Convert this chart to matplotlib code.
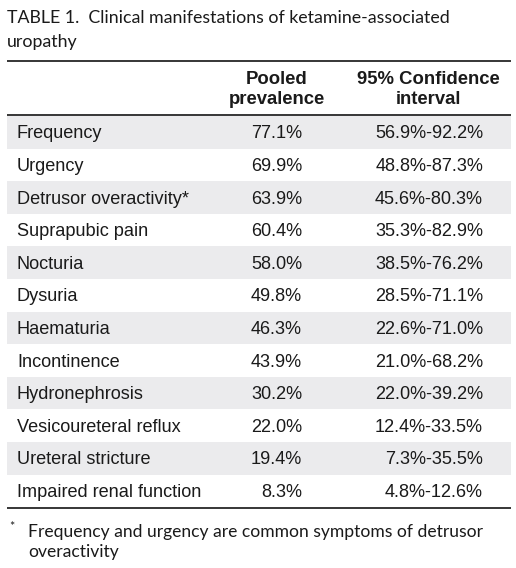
import matplotlib
matplotlib.use("Agg")
import matplotlib.pyplot as plt
from matplotlib.patches import Rectangle

title_lines = ["TABLE 1.  Clinical manifestations of ketamine-associated", "uropathy"]
col_headers = [["Pooled", "prevalence"], ["95% Confidence", "interval"]]
manifestations = ["Frequency", "Urgency", "Detrusor overactivity*", "Suprapubic pain",
                  "Nocturia", "Dysuria", "Haematuria", "Incontinence", "Hydronephrosis",
                  "Vesicoureteral reflux", "Ureteral stricture", "Impaired renal function"]
prevalence = ["77.1%", "69.9%", "63.9%", "60.4%", "58.0%", "49.8%", "46.3%", "43.9%",
              "30.2%", "22.0%", "19.4%", "8.3%"]
ci = ["56.9%-92.2%", "48.8%-87.3%", "45.6%-80.3%", "35.3%-82.9%", "38.5%-76.2%",
      "28.5%-71.1%", "22.6%-71.0%", "21.0%-68.2%", "22.0%-39.2%", "12.4%-33.5%",
      "7.3%-35.5%", "4.8%-12.6%"]
footnote = ["Frequency and urgency are common symptoms of detrusor", "overactivity"]

W, H = 516, 568
fig = plt.figure(figsize=(W / 100, H / 100), dpi=100)
ax = fig.add_axes([0, 0, 1, 1])
ax.set_xlim(0, W)
ax.set_ylim(H, 0)
ax.axis("off")

serif_like = ["Lato", "DejaVu Sans"]
body = ["Liberation Sans", "DejaVu Sans"]
txt = "#1a1a1a"

# title
ax.text(7, 18, title_lines[0], fontsize=12.8, family=serif_like, va="center", ha="left", color=txt)
ax.text(7, 42, title_lines[1], fontsize=12.8, family=serif_like, va="center", ha="left", color=txt)

x0, x1 = 7, 511
ax.plot([x0, x1], [61, 61], color="black", lw=1.1, solid_capstyle="butt")
ax.plot([x0, x1], [114.5, 114.5], color="black", lw=1.1, solid_capstyle="butt")

# headers
hs = 13.3
ax.text(277, 79, col_headers[0][0], fontsize=hs, family=body, weight="bold", ha="center", va="center", color=txt)
ax.text(277, 100, col_headers[0][1], fontsize=hs, family=body, weight="bold", ha="center", va="center", color=txt)
ax.text(428, 79, col_headers[1][0], fontsize=hs, family=body, weight="bold", ha="center", va="center", color=txt)
ax.text(428, 100, col_headers[1][1], fontsize=hs, family=body, weight="bold", ha="center", va="center", color=txt)

top = 116
rh = 32.6
bs = 13.1
for i, (m, p, c) in enumerate(zip(manifestations, prevalence, ci)):
    y = top + i * rh
    if i % 2 == 0:
        ax.add_patch(Rectangle((x0, y), x1 - x0, rh, facecolor="#ebebed", edgecolor="none"))
    yc = y + rh / 2 + 1.5
    ax.text(17, yc, m, fontsize=bs, family=body, ha="left", va="center", color=txt)
    ax.text(302, yc, p, fontsize=bs, family=body, ha="right", va="center", color=txt)
    ax.text(483, yc, c, fontsize=bs, family=body, ha="right", va="center", color=txt)

ybot = top + len(manifestations) * rh + 1
ax.plot([x0, x1], [ybot, ybot], color="black", lw=1.1, solid_capstyle="butt")

ax.text(9, 527, "*", fontsize=9, family=serif_like, ha="left", va="center", color=txt)
ax.text(28, 532, footnote[0], fontsize=12.6, family=serif_like, ha="left", va="center", color=txt)
ax.text(28, 552, footnote[1], fontsize=12.6, family=serif_like, ha="left", va="center", color=txt)

fig.savefig("out.png", dpi=100, facecolor="white")
